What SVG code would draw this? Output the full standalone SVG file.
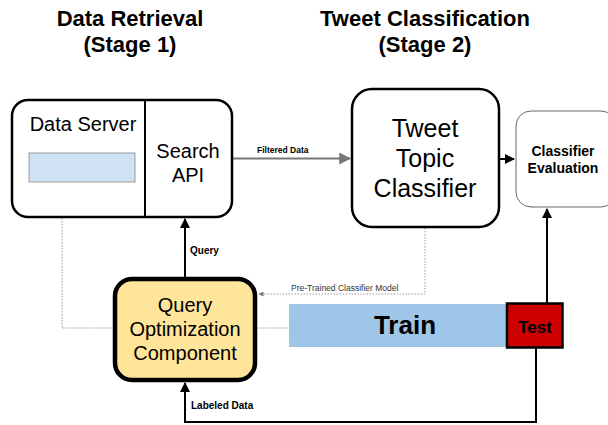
<svg xmlns="http://www.w3.org/2000/svg" width="608" height="425" viewBox="0 0 608 425">
<style>
text{font-family:"Liberation Sans",Arial,sans-serif;text-anchor:middle;fill:#000}
.title{font-size:22px;font-weight:bold}
.lbl{font-size:10px;font-weight:bold;text-anchor:start}
.box{fill:#fff;stroke:#000;stroke-width:2.5}
.dot{fill:none;stroke:#999;stroke-width:1;stroke-dasharray:1.5,1.5}
.line{fill:none;stroke:#000;stroke-width:2}
</style>
<defs>
<marker id="ahk" viewBox="0 0 10 10" refX="9" refY="5" markerWidth="10" markerHeight="10" orient="auto" markerUnits="userSpaceOnUse"><path d="M0,0L10,5L0,10z" fill="#000"/></marker>
<marker id="ahg" viewBox="0 0 10 10" refX="9" refY="5" markerWidth="12" markerHeight="12" orient="auto" markerUnits="userSpaceOnUse"><path d="M0,0L10,5L0,10z" fill="#777"/></marker>
<marker id="ahs" viewBox="0 0 10 10" refX="9" refY="5" markerWidth="5" markerHeight="5" orient="auto" markerUnits="userSpaceOnUse"><path d="M0,0L10,5L0,10z" fill="#777"/></marker>
</defs>
<g id="titles">
<text class="title" x="130" y="26">Data Retrieval</text>
<text class="title" x="130" y="52">(Stage 1)</text>
<text class="title" x="425" y="26">Tweet Classification</text>
<text class="title" x="425" y="52">(Stage 2)</text>
</g>
<g id="connectors">
<path class="dot" d="M62,182V328H113"/>
<path class="dot" d="M257,328H289"/>
<path class="dot" d="M425,228V294H259" marker-end="url(#ahs)"/>
<text x="291" y="291" style="font-size:8.5px;text-anchor:start;fill:#333">Pre-Trained Classifier Model</text>
<path d="M232,158.5H350" fill="none" stroke="#777" stroke-width="2" marker-end="url(#ahg)"/>
<text class="lbl" x="257" y="153" style="font-size:8.5px">Filtered Data</text>
<path class="line" d="M499,159H514" stroke-width="1.5" marker-end="url(#ahk)"/>
<path class="line" d="M185,277V219" marker-end="url(#ahk)"/>
<text class="lbl" x="190" y="254">Query</text>
<path class="line" d="M547,303V209" marker-end="url(#ahk)"/>
<path class="line" d="M536,348V422H185V383" marker-end="url(#ahk)"/>
<text class="lbl" x="191" y="409">Labeled Data</text>
</g>
<g id="data-server">
<rect class="box" x="12" y="100" width="220" height="117" rx="16"/>
<line x1="145" y1="100" x2="145" y2="217" stroke="#000" stroke-width="2"/>
<rect x="29" y="153" width="106" height="29" fill="#cfe2f3" stroke="#999" stroke-width="1"/>
<text x="83" y="131" style="font-size:20px">Data Server</text>
<text x="188" y="158" style="font-size:20px">Search</text>
<text x="188" y="182" style="font-size:20px">API</text>
</g>
<g id="tweet-topic-classifier">
<rect class="box" x="352" y="89" width="147" height="138" rx="20"/>
<text x="425" y="137" style="font-size:25px">Tweet</text>
<text x="425" y="167" style="font-size:25px">Topic</text>
<text x="425" y="197" style="font-size:25px">Classifier</text>
</g>
<g id="classifier-evaluation">
<rect x="516" y="111" width="100" height="96" rx="15" fill="#fff" stroke="#666" stroke-width="1"/>
<text x="563" y="156" style="font-size:14px;font-weight:bold">Classifier</text>
<text x="563" y="173" style="font-size:14px;font-weight:bold">Evaluation</text>
</g>
<g id="query-optimization">
<rect x="115" y="279" width="140" height="101" rx="17" fill="#ffe599" stroke="#000" stroke-width="4.5"/>
<text x="185" y="312" style="font-size:20px">Query</text>
<text x="185" y="336" style="font-size:20px">Optimization</text>
<text x="185" y="360" style="font-size:20px">Component</text>
</g>
<g id="train">
<rect x="289" y="304" width="218" height="43" fill="#9fc5e8"/>
<text x="405" y="334" style="font-size:26px;font-weight:bold">Train</text>
</g>
<g id="test">
<rect x="507" y="303.5" width="55.5" height="44" fill="#cc0000" stroke="#000" stroke-width="2.5"/>
<text x="535" y="333" style="font-size:17px;font-weight:bold">Test</text>
</g>
</svg>
